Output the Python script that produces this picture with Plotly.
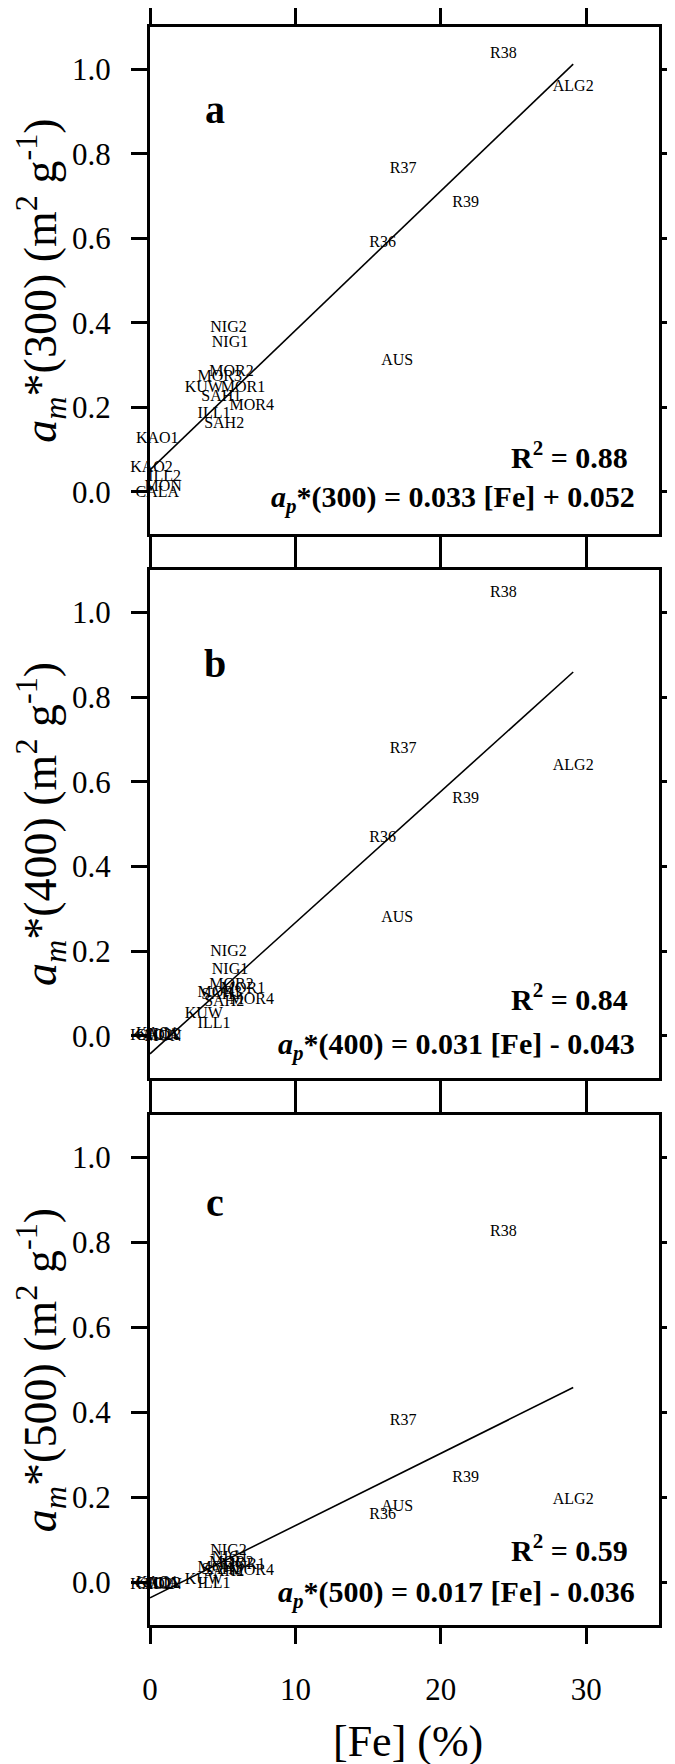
import plotly.graph_objects as go

# ---------------- data ----------------
names = ["R38", "ALG2", "R37", "R39", "R36", "AUS", "NIG2", "NIG1", "MOR2", "MOR3",
         "KUW", "MOR1", "SAH1", "MOR4", "ILL1", "SAH2", "KAO1", "KAO2", "ILL2", "MON", "CALA"]
fe = [24.3, 29.1, 17.4, 21.7, 16.0, 17.0, 5.4, 5.5, 5.6, 4.8,
      3.7, 6.4, 4.9, 7.0, 4.4, 5.1, 0.5, 0.1, 1.0, 0.9, 0.5]
a300 = [1.036, 0.958, 0.763, 0.683, 0.588, 0.309, 0.387, 0.353, 0.284, 0.272,
        0.245, 0.245, 0.225, 0.204, 0.184, 0.161, 0.126, 0.057, 0.036, 0.011, -0.002]
a400 = [1.045, 0.638, 0.677, 0.560, 0.468, 0.278, 0.198, 0.154, 0.120, 0.100,
        0.052, 0.110, 0.095, 0.084, 0.027, 0.080, 0.003, 0.000, 0.002, -0.002, 0.000]
a500 = [0.824, 0.195, 0.381, 0.247, 0.158, 0.178, 0.073, 0.058, 0.045, 0.035,
        0.005, 0.041, 0.030, 0.026, -0.003, 0.025, -0.002, -0.005, -0.003, -0.005, -0.004]
series = [a300, a400, a500]

slopes = [0.033, 0.031, 0.017]
intercepts = [0.052, -0.043, -0.036]
r2_text = ["0.88", "0.84", "0.59"]
eq_text = ["0.033 [Fe] + 0.052", "0.031 [Fe] - 0.043", "0.017 [Fe] - 0.036"]
wavelengths = ["300", "400", "500"]
panel_letters = ["a", "b", "c"]
x_ticks = [0, 10, 20, 30]
y_ticks = [0.0, 0.2, 0.4, 0.6, 0.8, 1.0]

# ---------------- layout geometry ----------------
SERIF = "Liberation Serif"
domains = [[0.6827, 1.0], [0.3423, 0.6602], [0.0, 0.3191]]
letter_y = [0.905, 0.878, 0.895]
r2_y = [0.088, 0.092, 0.082]
eq_y = [-0.018, -0.024, -0.028]

fig = go.Figure()
annotations = []

for i in range(3):
    xa = "x" if i == 0 else f"x{i+1}"
    ya = "y" if i == 0 else f"y{i+1}"
    vals = series[i]
    fig.add_trace(go.Scatter(
        x=fe, y=vals, mode="text", text=names,
        textposition="middle center",
        textfont=dict(family=SERIF, size=16, color="black"),
        xaxis=xa, yaxis=ya, cliponaxis=False, hoverinfo="skip", showlegend=False))
    x_end = max(fe)
    fig.add_trace(go.Scatter(
        x=[0, x_end], y=[intercepts[i], slopes[i] * x_end + intercepts[i]],
        mode="lines", line=dict(color="black", width=1.6),
        xaxis=xa, yaxis=ya, hoverinfo="skip", showlegend=False))

    axis_common = dict(showline=True, linecolor="black", linewidth=3, mirror="ticks",
                       ticks="outside", ticklen=16, tickwidth=3, tickcolor="black",
                       showgrid=False, zeroline=False, automargin=False)
    xkey = "xaxis" if i == 0 else f"xaxis{i+1}"
    ykey = "yaxis" if i == 0 else f"yaxis{i+1}"
    fig.update_layout(**{
        xkey: dict(domain=[0, 1], anchor=ya, range=[0, 35], tickvals=x_ticks,
                   showticklabels=(i == 2), ticklabelstandoff=19,
                   tickfont=dict(family=SERIF, size=31, color="black"), **axis_common),
        ykey: dict(domain=domains[i], anchor=xa, range=[-0.1, 1.1], tickvals=y_ticks,
                   tickformat=".1f", ticklabelstandoff=14,
                   tickfont=dict(family=SERIF, size=31, color="black"),
                   title=dict(
                       text=f"<i>a</i><sub><i>m</i></sub>*({wavelengths[i]}) (m<sup>2</sup> g<sup>-1</sup>)",
                       font=dict(family=SERIF, size=46, color="black"), standoff=6),
                   **axis_common),
    })

    # panel letter
    annotations.append(dict(
        xref=xa, yref=ya, x=4.5, y=letter_y[i], text=f"<b>{panel_letters[i]}</b>",
        showarrow=False, xanchor="center", yanchor="middle",
        font=dict(family=SERIF, size=40, color="black")))
    # R^2
    annotations.append(dict(
        xref=xa, yref=ya, x=33.0, y=r2_y[i], text=f"<b>R<sup>2</sup> = {r2_text[i]}</b>",
        showarrow=False, xanchor="right", yanchor="middle",
        font=dict(family=SERIF, size=30, color="black")))
    # regression equation
    annotations.append(dict(
        xref=xa, yref=ya, x=33.5, y=eq_y[i],
        text=f"<b><i>a</i><sub><i>p</i></sub>*({wavelengths[i]}) = {eq_text[i]}</b>",
        showarrow=False, xanchor="right", yanchor="middle",
        font=dict(family=SERIF, size=30, color="black")))

# x-axis title
annotations.append(dict(
    xref="paper", yref="paper", x=0.507, y=-0.0726, text="[Fe] (%)",
    showarrow=False, xanchor="center", yanchor="middle",
    font=dict(family=SERIF, size=44, color="black")))

# page body has an 8 px margin, so the figure is 8 px smaller than the window
fig.update_layout(
    template="none",
    width=667, height=1756,
    margin=dict(l=142, r=16, t=19, b=139),
    paper_bgcolor="white", plot_bgcolor="white",
    annotations=annotations, showlegend=False)

fig.write_html("out.html")
